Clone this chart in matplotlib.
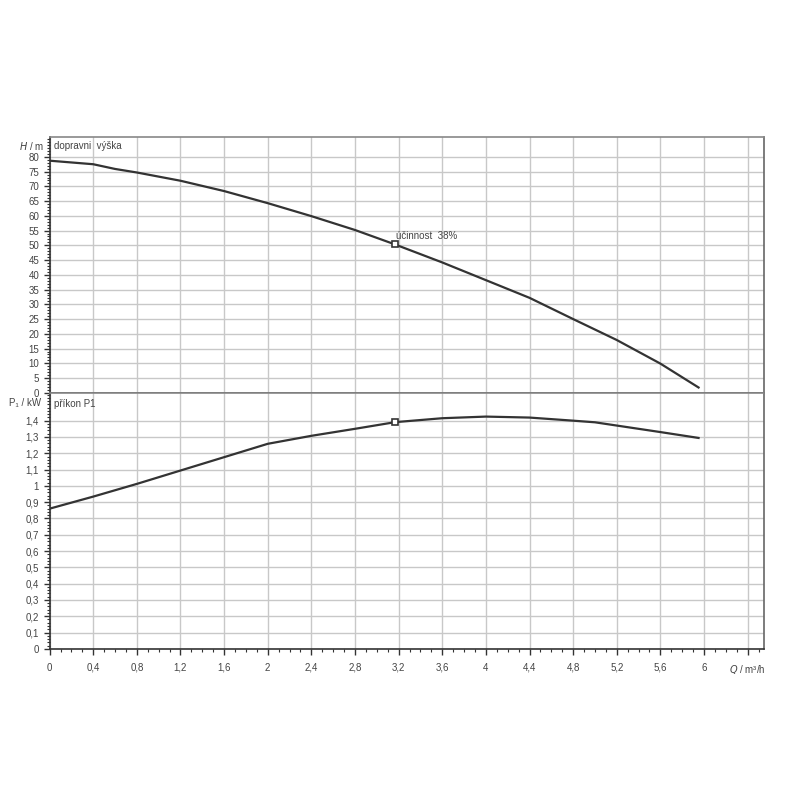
import numpy as np
import matplotlib
matplotlib.use('Agg')
import matplotlib.pyplot as plt
from matplotlib.ticker import MultipleLocator, FixedLocator

plt.rcParams['font.family'] = ['Liberation Sans', 'DejaVu Sans']

# dopravni vyska H [m] vs Q [m3/h]
q_h = [0, 0.4, 0.6, 0.8, 1.2, 1.6, 2.0, 2.4, 2.8, 3.16, 3.6, 4.0, 4.4, 4.8, 5.2, 5.6, 5.95]
h = [78.7, 77.5, 75.9, 74.7, 71.9, 68.4, 64.3, 59.9, 55.2, 50.4, 44.2, 38.2, 32.2, 25.0, 17.9, 9.9, 1.8]

# prikon P1 [kW] vs Q [m3/h]
q_p = [0, 0.4, 0.8, 1.2, 1.6, 2.0, 2.4, 2.8, 3.17, 3.6, 4.0, 4.4, 4.8, 5.0, 5.2, 5.6, 5.95]
p = [0.86, 0.934, 1.012, 1.094, 1.176, 1.258, 1.307, 1.35, 1.391, 1.415, 1.425, 1.419, 1.40, 1.39, 1.37, 1.33, 1.294]

# pracovni bod
q_bod = 3.17
h_bod = 50.4
p_bod = 1.391
ucinnost = 'účinnost  38%'

x_ticks = [round(0.4 * i, 1) for i in range(17)]
x_labels = [('%g' % v).replace('.', ',') for v in x_ticks[:-1]] + ['$Q$ / m³/h']
h_ticks = list(range(0, 85, 5))
p_ticks = [round(0.1 * i, 1) for i in range(15)]

cara = '#333333'
mrizka = '#c8c8c8'
text_c = '#444444'
fs = 7

fig = plt.figure(figsize=(8, 8), dpi=100)
ax1 = fig.add_axes([0.062, 0.509, 0.893, 0.32])
ax2 = fig.add_axes([0.062, 0.189, 0.893, 0.32])

for ax in (ax1, ax2):
    ax.set_xlim(0, 6.55)
    ax.xaxis.set_major_locator(FixedLocator(x_ticks))
    ax.xaxis.set_minor_locator(MultipleLocator(0.1))
    ax.grid(True, which='major', color=mrizka, linewidth=1)
    ax.set_axisbelow(True)
    ax.tick_params(which='both', direction='out', colors=cara, labelcolor=text_c, labelsize=fs)
    ax.tick_params(which='major', length=4, width=1)
    ax.tick_params(which='minor', length=2.5, width=0.8)
    ax.spines['left'].set_color(cara)
    ax.spines['bottom'].set_color(cara)
    ax.spines['right'].set_color('#666666')
    ax.spines['top'].set_color('#888888')
    for s in ax.spines.values():
        s.set_linewidth(1.2)

# horni graf - H
ax1.plot(q_h, h, color=cara, linewidth=1.6)
ax1.plot([q_bod], [h_bod], marker='s', markersize=5, markerfacecolor='white',
         markeredgecolor=cara, markeredgewidth=1.2)
ax1.text(q_bod + 0.01, h_bod + 2.6, ucinnost, fontsize=fs, color=text_c, va='center', ha='left')
ax1.set_ylim(0, 86.8)
ax1.yaxis.set_major_locator(FixedLocator(h_ticks))
ax1.yaxis.set_minor_locator(MultipleLocator(1))
ax1.tick_params(axis='x', which='both', bottom=False, labelbottom=False)
ax1.set_yticklabels([str(v) for v in h_ticks])
ax1.text(0.006, 0.965, 'dopravni  výška', transform=ax1.transAxes, fontsize=fs,
         color=text_c, va='center', ha='left')
ax1.text(-0.008, 0.965, '$H$ / m', transform=ax1.transAxes, fontsize=fs,
         color=text_c, va='center', ha='right')

# dolni graf - P1
ax2.plot(q_p, p, color=cara, linewidth=1.6)
ax2.plot([q_bod], [p_bod], marker='s', markersize=5, markerfacecolor='white',
         markeredgecolor=cara, markeredgewidth=1.2)
ax2.set_ylim(0, 1.571)
ax2.yaxis.set_major_locator(FixedLocator(p_ticks))
ax2.yaxis.set_minor_locator(MultipleLocator(0.02))
ax2.set_yticklabels([('%g' % v).replace('.', ',') for v in p_ticks])
ax2.set_xticklabels(x_labels)
ax2.tick_params(axis='x', which='major', pad=6)
ax2.text(0.006, 0.957, 'příkon P1', transform=ax2.transAxes, fontsize=fs,
         color=text_c, va='center', ha='left')
ax2.text(-0.012, 0.96, 'P₁ / kW', transform=ax2.transAxes, fontsize=fs,
         color=text_c, va='center', ha='right')

plt.savefig('out.png', dpi=100)
